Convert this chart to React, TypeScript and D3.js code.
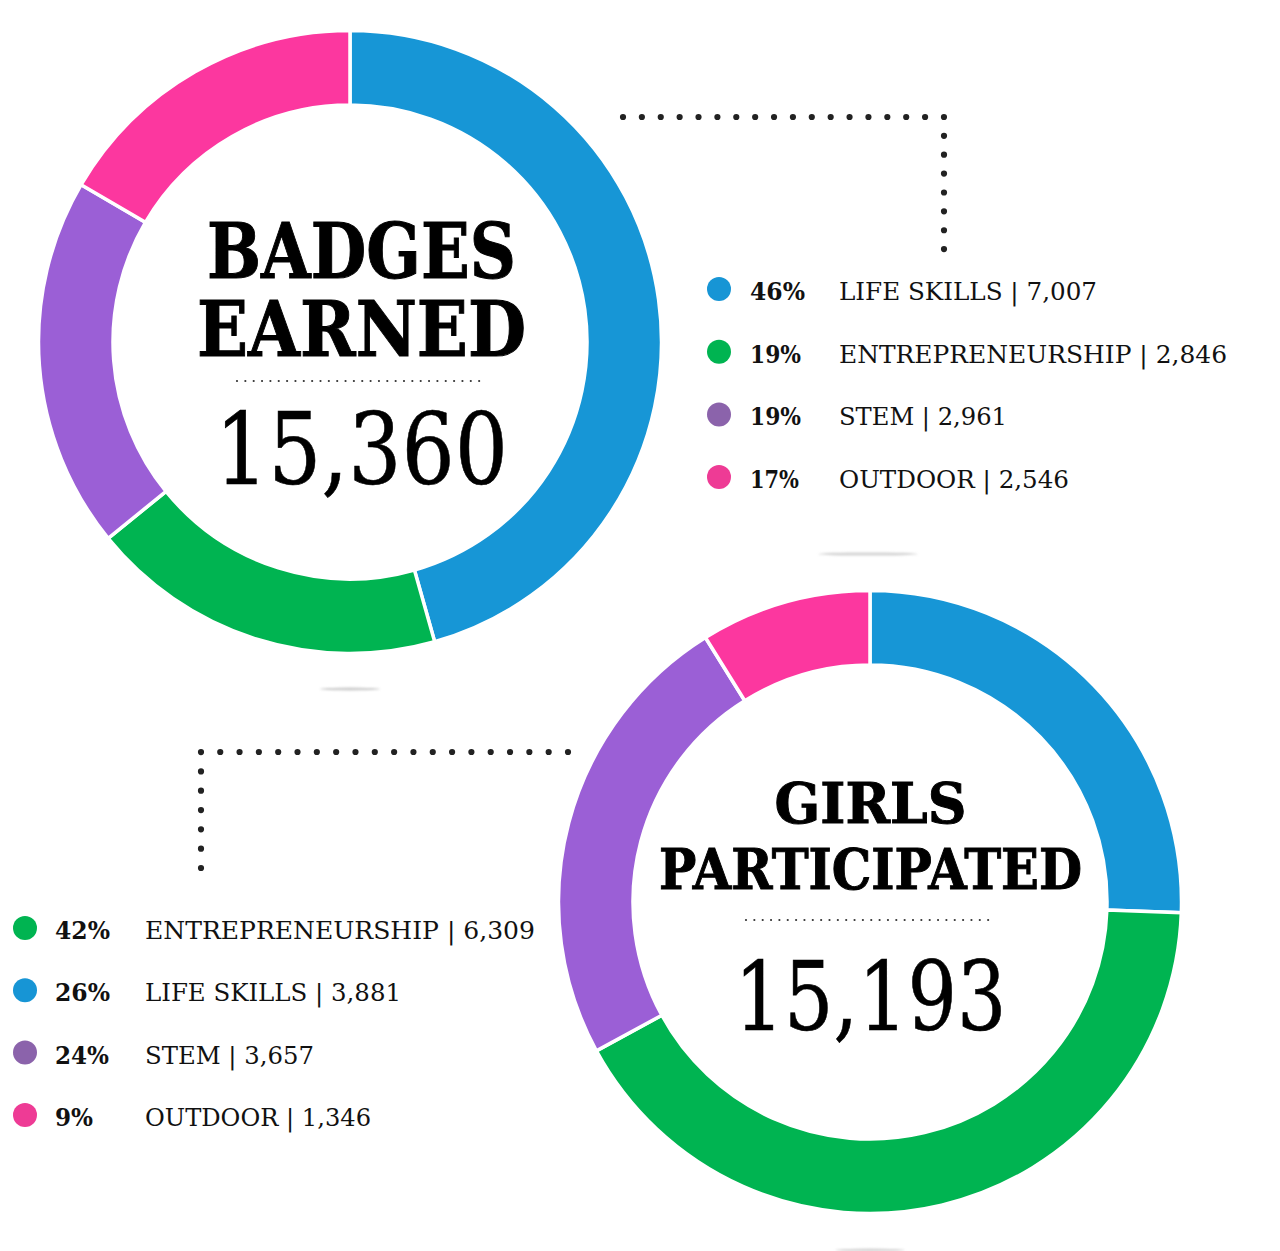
import React from "react";
import * as d3 from "d3";

const categories = ["LIFE SKILLS", "ENTREPRENEURSHIP", "STEM", "OUTDOOR"];
const badgesValues = [7007, 2846, 2961, 2546];
const girlsValues = [3881, 6309, 3657, 1346];
const badgesLegendOrder = ["LIFE SKILLS", "ENTREPRENEURSHIP", "STEM", "OUTDOOR"];
const girlsLegendOrder = ["ENTREPRENEURSHIP", "LIFE SKILLS", "STEM", "OUTDOOR"];
const badgesTitle = ["BADGES", "EARNED"];
const girlsTitle = ["GIRLS", "PARTICIPATED"];

const arcColors = ["#1796d6", "#00b451", "#9b5fd6", "#fc379f"];
const dotColors = ["#1795d5", "#00b451", "#8b63ab", "#ee3b95"];

const W = 1280;
const H = 1251;
const SERIF = "'DejaVu Serif', 'Liberation Serif', serif";
const fmt = d3.format(",");

const colorScale = d3.scaleOrdinal<string, string>().domain(categories).range(arcColors);
const dotScale = d3.scaleOrdinal<string, string>().domain(categories).range(dotColors);

function Donut({ cx, cy, values }: { cx: number; cy: number; values: number[] }) {
  const pie = d3.pie<number>().sort(null).value((d) => d);
  const arc = d3.arc<d3.PieArcDatum<number>>().innerRadius(237).outerRadius(311.5);
  const arcs = pie(values);
  return (
    <g transform={`translate(${cx},${cy})`}>
      {arcs.map((a, i) => (
        <path key={i} d={arc(a) || ""} fill={colorScale(categories[i])} stroke="#fff" strokeWidth={3.5} />
      ))}
    </g>
  );
}

function Legend({
  x, y0, step, order, values, pctX, labelX, labelWidths, pctWidths,
}: {
  x: number; y0: number; step: number; order: string[]; values: number[];
  pctX: number; labelX: number; labelWidths: number[]; pctWidths: number[];
}) {
  const total = d3.sum(values);
  return (
    <g>
      {order.map((c, i) => {
        const v = values[categories.indexOf(c)];
        const pct = Math.round((v / total) * 100);
        const y = y0 + i * step;
        return (
          <g key={c}>
            <circle cx={x} cy={y} r={12} fill={dotScale(c)} />
            <text x={pctX} y={y + 11} fontFamily={SERIF} fontWeight="bold" fontSize={24} fill="#111"
              textLength={pctWidths[i]} lengthAdjust="spacingAndGlyphs">{pct}%</text>
            <text x={labelX} y={y + 11} fontFamily={SERIF} fontSize={24} fill="#111"
              textLength={labelWidths[i]} lengthAdjust="spacingAndGlyphs">{`${c} | ${fmt(v)}`}</text>
          </g>
        );
      })}
    </g>
  );
}

function Center({
  cx, lines, lineBase, lineSize, lineWidths, dotY, dotX0, dotX1, num, numBase, numSize, numWidth,
}: {
  cx: number; lines: string[]; lineBase: number[]; lineSize: number; lineWidths: number[];
  dotY: number; dotX0: number; dotX1: number; num: number; numBase: number; numSize: number; numWidth: number;
}) {
  return (
    <g>
      {lines.map((l, i) => (
        <text key={l} x={cx} y={lineBase[i]} textAnchor="middle" fontFamily={SERIF} fontWeight={900}
          fontSize={lineSize} fill="#000" textLength={lineWidths[i]} lengthAdjust="spacingAndGlyphs"
          stroke="#000" strokeWidth={1}>{l}</text>
      ))}
      <line x1={dotX0} x2={dotX1} y1={dotY} y2={dotY} stroke="#333" strokeWidth={2.2}
        strokeLinecap="round" strokeDasharray="0 8.35" />
      <text x={cx} y={numBase} textAnchor="middle" fontFamily={SERIF} fontSize={numSize} fill="#000"
        textLength={numWidth} lengthAdjust="spacingAndGlyphs" stroke="#000" strokeWidth={0.6}>{fmt(num)}</text>
    </g>
  );
}

export default function App() {
  const badgesTotal = d3.sum(badgesValues);
  const girlsTotal = d3.sum(girlsValues);
  return (
    <svg width={W} height={H} viewBox={`0 0 ${W} ${H}`}
      style={{ position: "absolute", left: 0, top: 0, background: "#fff" }}>
      <defs>
        <filter id="blur" x="-50%" y="-300%" width="200%" height="700%">
          <feGaussianBlur stdDeviation="1.2" />
        </filter>
      </defs>
      <rect width={W} height={H} fill="#fff" />
      {/* faint shadows */}
      <ellipse cx={350} cy={689} rx={30} ry={1.4} fill="#ccc" filter="url(#blur)" />
      <ellipse cx={868} cy={554} rx={50} ry={1.6} fill="#d4d4d4" filter="url(#blur)" />
      <ellipse cx={870} cy={1250} rx={35} ry={1.4} fill="#d4d4d4" filter="url(#blur)" />

      <Donut cx={350} cy={342} values={badgesValues} />
      <Donut cx={870} cy={902} values={girlsValues} />

      {/* connectors */}
      <path d="M623,117 H944 V250" fill="none" stroke="#222" strokeWidth={6.2}
        strokeLinecap="round" strokeDasharray="0 18.88" />
      <path d="M568,752 H201 V886" fill="none" stroke="#222" strokeWidth={6.2}
        strokeLinecap="round" strokeDasharray="0 19.32" />

      <Center cx={361.5} lines={badgesTitle} lineBase={[278, 356]} lineSize={77} lineWidths={[309, 329]}
        dotY={381} dotX0={237} dotX1={487} num={badgesTotal} numBase={484} numSize={99} numWidth={293} />
      <Center cx={870.5} lines={girlsTitle} lineBase={[823, 889]} lineSize={56} lineWidths={[192, 423]}
        dotY={920} dotX0={746} dotX1={996} num={girlsTotal} numBase={1030} numSize={96} numWidth={272} />

      <Legend x={719} y0={289} step={62.7} order={badgesLegendOrder} values={badgesValues}
        pctX={750} labelX={839} labelWidths={[258, 388, 168, 230]} pctWidths={[55, 51, 51, 49]} />
      <Legend x={25} y0={928} step={62.3} order={girlsLegendOrder} values={girlsValues}
        pctX={55} labelX={145} labelWidths={[390, 256, 169, 226]} pctWidths={[55, 55, 54, 38]} />
    </svg>
  );
}
